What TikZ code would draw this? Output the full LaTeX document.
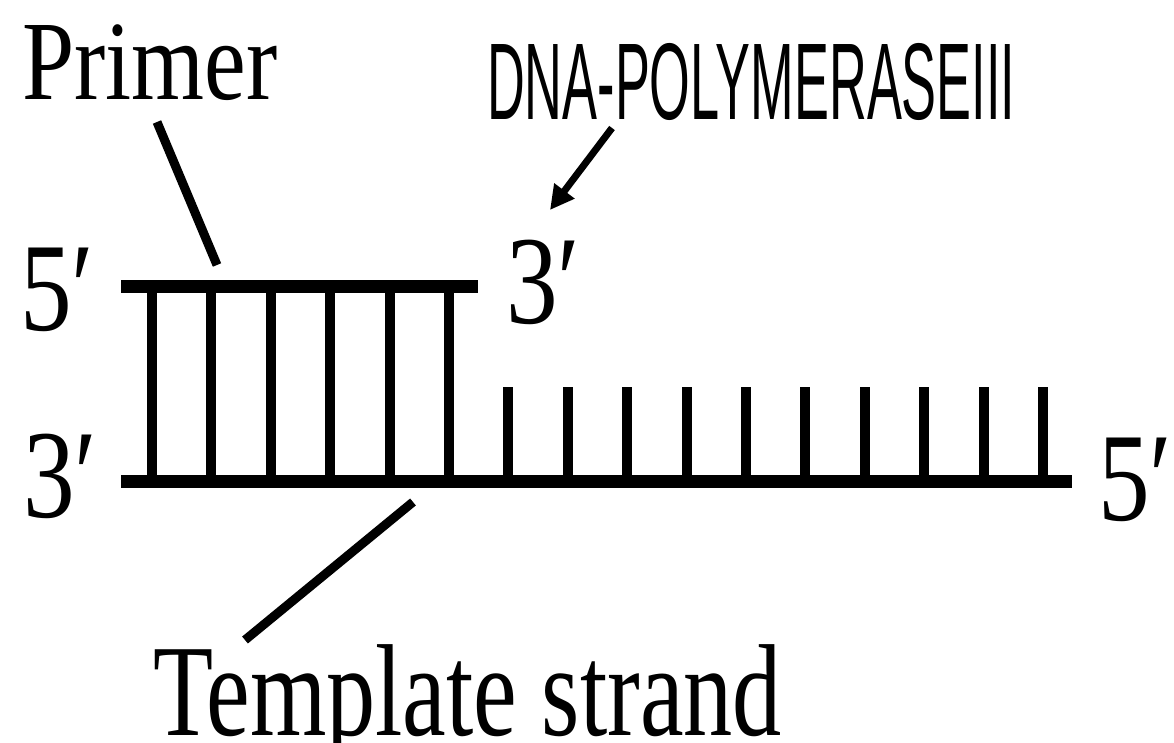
\documentclass[tikz,border=0pt]{standalone}
\usepackage{fontspec}
\setmainfont{Liberation Serif}
\newfontfamily\polysans{Liberation Sans}
\usetikzlibrary{arrows.meta}

\tikzset{
  strand/.style={line width=13pt},
  rung/.style={line width=10pt},
  pointer/.style={line width=9pt},
  lbl/.style={inner sep=0pt, anchor=base west},
  endlabel/.style={lbl, font=\fontsize{126}{126}\selectfont},
}

\begin{document}
\begin{tikzpicture}[x=1pt, y=-1pt]
  \useasboundingbox[fill=white] (0,0) rectangle (1174,743);

  % primer strand (top) and template strand (bottom)
  \coordinate (p5) at (121,286);
  \coordinate (p3) at (478,286);
  \coordinate (t3) at (121,481.5);
  \coordinate (t5) at (1072,481.5);
  \draw[strand] (p5) -- (p3);
  \draw[strand] (t3) -- (t5);

  % paired bases under the primer
  \foreach \i in {0,...,5}
    \draw[rung] (152+59.4*\i,286) -- (152+59.4*\i,481.5);
  % unpaired bases of the template
  \foreach \i in {6,...,15}
    \draw[rung] (152+59.4*\i,387) -- (152+59.4*\i,481.5);

  % strand end labels
  \node[endlabel] (p5lbl) at (20,330)   {\scalebox{0.82}[1]{5′}};
  \node[endlabel] (t3lbl) at (23,517)   {\scalebox{0.82}[1]{3′}};
  \node[endlabel] (p3lbl) at (506,323)  {\scalebox{0.82}[1]{3′}};
  \node[endlabel] (t5lbl) at (1098,520) {\scalebox{0.82}[1]{5′}};

  % captions
  \node[lbl, font=\fontsize{113}{113}\selectfont] (primer) at (22,100)
    {\scalebox{0.83}[1]{Primer}};
  \node[lbl, font=\fontsize{131}{131}\selectfont] (template) at (153,735)
    {\scalebox{0.75}[1]{Template strand}};
  \node[lbl, font=\polysans\fontsize{109}{109}\selectfont] (polymerase) at (487,120)
    {\scalebox{0.48}[1]{DNA-POLYMERASEIII}};

  % leader lines
  \coordinate (primerTail) at (157,122);
  \coordinate (primerTip)  at (217,265);
  \draw[pointer] (primerTail) -- (primerTip);

  \coordinate (tmplTail) at (245,640);
  \coordinate (tmplTip)  at (413,502);
  \draw[pointer] (tmplTail) -- (tmplTip);

  \coordinate (polTail) at (612,128);
  \coordinate (polTip)  at (550,210);
  \draw[line width=7pt, -{Triangle[length=24pt,width=24pt]}] (polTail) -- (polTip);
\end{tikzpicture}
\end{document}
